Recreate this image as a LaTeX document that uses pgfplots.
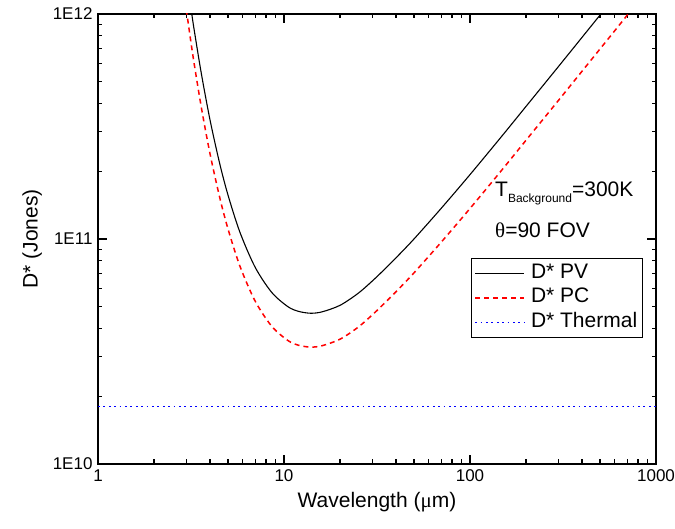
\documentclass[border=0pt]{standalone}
\usepackage{fontspec}
\setmainfont{Liberation Sans}
\newfontfamily\symfont{Liberation Serif}
\usepackage{pgfplots}
\pgfplotsset{compat=1.18}
\usepackage{pgfplotstable}

\pgfplotstableread{
x y
2.9 1.774e12
3.0 1.435e12
3.16 1.059e12
3.3 8.356e11
3.6 5.395e11
4.0 3.388e11
4.5 2.183e11
5.0 1.567e11
5.8 1.069e11
7.0 7.482e10
8.6 5.781e10
10.5 5.000e10
12 4.764e10
13.9 4.677e10
16 4.742e10
20 5.070e10
25 5.728e10
30 6.531e10
35 7.379e10
40 8.241e10
50 1.000e11
70 1.368e11
100 1.932e11
150 2.897e11
200 3.882e11
300 5.861e11
500 9.886e11
600 1.191e12
800 1.603e12
}\pvdata

\pgfplotstableread{
x y
2.9 1.254e12
3.0 1.015e12
3.16 7.488e11
3.3 5.909e11
3.6 3.815e11
4.0 2.396e11
4.5 1.544e11
5.0 1.108e11
5.8 7.559e10
7.0 5.291e10
8.6 4.088e10
10.5 3.536e10
12 3.369e10
13.9 3.307e10
16 3.353e10
20 3.585e10
25 4.050e10
30 4.618e10
35 5.218e10
40 5.827e10
50 7.071e10
70 9.673e10
100 1.366e11
150 2.048e11
200 2.745e11
300 4.144e11
500 6.990e11
600 8.422e11
800 1.134e12
}\pcdata

\pgfplotstableread{
x y
1 1.8e10
1000 1.8e10
}\thdata

\begin{document}
\begin{tikzpicture}
\begin{axis}[
  scale only axis,
  width=558pt, height=450pt,
  xmode=log, ymode=log,
  xmin=1, xmax=1000, ymin=1e10, ymax=1e12,
  xtick={1,10,100,1000}, xticklabels={1,10,100,1000},
  ytick={1e10,1e11,1e12}, yticklabels={1E10,1E11,1E12},
  xtick pos=both, ytick pos=both,
  tick align=inside,
  major tick length=9pt, minor tick length=4.5pt,
  every tick/.style={black, line width=1.1pt},
  axis line style={line width=1.4pt},
  tick label style={font=\fontsize{17}{17}\selectfont},
  xticklabel style={yshift=-2pt},
  yticklabel style={xshift=-2pt},
  xlabel={Wavelength ({\symfont μ}m)},
  ylabel={D* (Jones)},
  label style={font=\fontsize{21}{21}\selectfont},
  xlabel style={yshift=-4pt},
  ylabel style={yshift=4pt},
  legend style={at={(0.976,0.459)}, anchor=north east, yshift=-0.5pt, draw=black, line width=0.8pt,
    font=\fontsize{21}{21}\selectfont, inner xsep=3pt, inner ysep=3pt,
    nodes={inner sep=2pt, text height=15pt, text depth=5.5pt}},
  legend cell align=left,
  legend image code/.code={\draw[#1] (0pt,0pt) -- (49pt,0pt); \path (53pt,0pt);},
]
\coordinate (ll) at (rel axis cs:0,0);
\addplot[black, line width=1.1pt, smooth] table[x=x,y=y] {\pvdata};
\addlegendentry{D* PV}
\addplot[red, line width=1.5pt, smooth, dash pattern=on 5pt off 4pt] table[x=x,y=y] {\pcdata};
\addlegendentry{D* PC}
\addplot[blue, line width=1.3pt, dash pattern=on 1.8pt off 3.6pt] table[x=x,y=y] {\thdata};
\addlegendentry{D* Thermal}
\node[anchor=base west, font=\fontsize{21}{21}\selectfont, inner sep=0pt] at (rel axis cs:0.7115,0.594)
  {T\raisebox{-6pt}{\fontsize{12}{12}\selectfont Background}=300K};
\node[anchor=base west, font=\fontsize{21}{21}\selectfont, inner sep=0pt] at (rel axis cs:0.7115,0.504)
  {{\symfont θ}=90 FOV};
\end{axis}
\pgfresetboundingbox
\path[use as bounding box] (ll) ++(-98pt,-65pt) rectangle ++(675pt,529pt);
\end{tikzpicture}
\end{document}
